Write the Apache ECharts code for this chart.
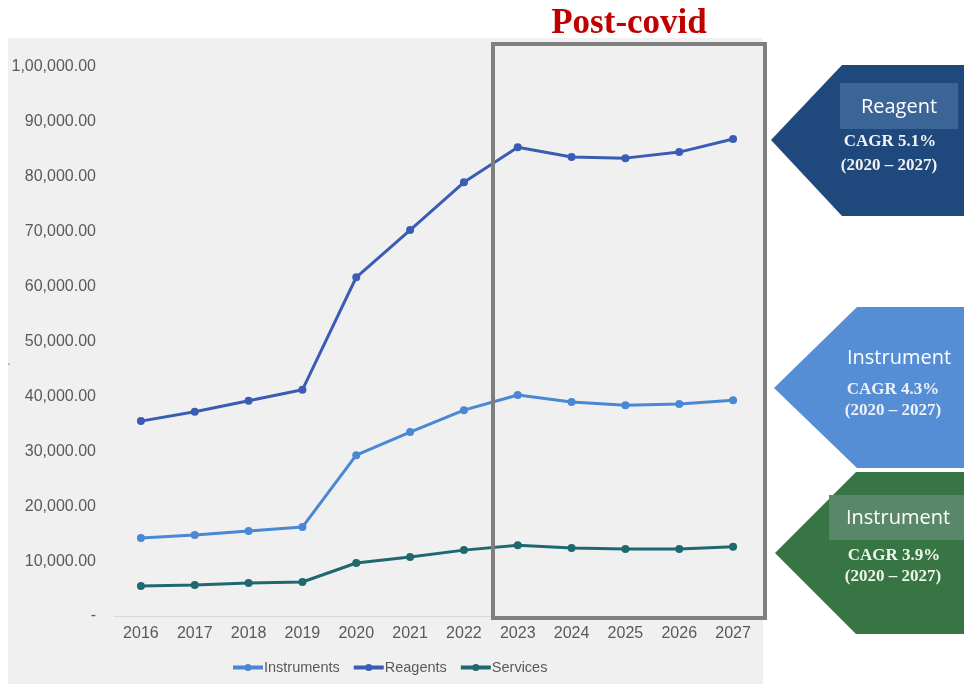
<!DOCTYPE html>
<html>
<head>
<meta charset="utf-8">
<script src="https://cdn.jsdelivr.net/npm/echarts@6/dist/echarts.min.js"></script>
<style>
html,body{margin:0;padding:0;background:#ffffff;}
#chart{width:964px;height:684px;}
</style>
</head>
<body>
<div id="chart"></div>
<script>
var years = ['2016','2017','2018','2019','2020','2021','2022','2023','2024','2025','2026','2027'];
var instruments = [14200, 14750, 15500, 16200, 29300, 33500, 37500, 40250, 39000, 38400, 38600, 39300];
var reagents = [35500, 37200, 39200, 41200, 61700, 70300, 79000, 85400, 83600, 83400, 84500, 86900];
var services = [5450, 5650, 6000, 6200, 9650, 10750, 12000, 12900, 12400, 12200, 12200, 12600];
var yTickLabels = ['-', '10,000.00', '20,000.00', '30,000.00', '40,000.00', '50,000.00', '60,000.00', '70,000.00', '80,000.00', '90,000.00', '1,00,000.00'];
var seriesNames = ['Instruments', 'Reagents', 'Services'];
var seriesColors = ['#4a87d4', '#3a5cb4', '#1f6870'];
var titleText = 'Post-covid';
var calloutTitles = ['Reagent', 'Instrument', 'Instrument'];
var calloutCagr = ['CAGR 5.1%', 'CAGR 4.3%', 'CAGR 3.9%'];
var calloutPeriod = '(2020 \u2013 2027)';

var chart = echarts.init(document.getElementById('chart'));

function mkSeries(i, data) {
  return {
    name: seriesNames[i], type: 'line', data: data,
    symbol: 'circle', symbolSize: 8,
    lineStyle: { width: 3, color: seriesColors[i] },
    itemStyle: { color: seriesColors[i] },
    z: 3
  };
}

var serifBold = 'bold 17px "Liberation Serif", "DejaVu Serif", serif';
var sans = '20px "Open Sans", "Noto Sans", sans-serif';

function txt(t, x, y, font, fill) {
  return { type: 'text', z: 30, style: { text: t, x: x, y: y, textAlign: 'center', textVerticalAlign: 'middle', font: font, fill: fill } };
}

var graphics = [
  { type: 'rect', z: -10, silent: true, shape: { x: 8, y: 38, width: 755, height: 646 }, style: { fill: '#f0f0f0' } },
  { type: 'rect', z: 20, silent: true, shape: { x: 493, y: 44, width: 272, height: 574 }, style: { fill: 'none', stroke: '#7f7f7f', lineWidth: 4 } },
  txt(titleText, 629, 24, 'bold 35px "Liberation Serif", "DejaVu Serif", serif', '#c00000'),
  // Reagent callout
  { type: 'polygon', z: 25, shape: { points: [[771,140],[842,65],[964,65],[964,216],[842,216]] }, style: { fill: '#1f497d' } },
  { type: 'rect', z: 26, shape: { x: 840, y: 83, width: 118, height: 46 }, style: { fill: '#3b6497' } },
  txt(calloutTitles[0], 899, 107, sans, '#ffffff'),
  txt(calloutCagr[0], 890, 142, serifBold, '#f2f2f2'),
  txt(calloutPeriod, 889, 166, serifBold, '#f2f2f2'),
  // Instrument callout (blue)
  { type: 'polygon', z: 25, shape: { points: [[774,388],[857,307],[964,307],[964,468],[857,468]] }, style: { fill: '#558ed5' } },
  txt(calloutTitles[1], 899, 358, sans, '#ffffff'),
  txt(calloutCagr[1], 893, 390, serifBold, '#eef2f8'),
  txt(calloutPeriod, 893, 411, serifBold, '#eef2f8'),
  // Instrument callout (green)
  { type: 'polygon', z: 25, shape: { points: [[775,553],[856,472],[964,472],[964,634],[856,634]] }, style: { fill: '#387544' } },
  { type: 'rect', z: 26, shape: { x: 829, y: 495, width: 135, height: 45 }, style: { fill: '#58876a' } },
  txt(calloutTitles[2], 898, 518, sans, '#ffffff'),
  txt(calloutCagr[2], 894, 556, serifBold, '#eef5ea'),
  txt(calloutPeriod, 893, 577, serifBold, '#eef5ea'),
  txt('.', 9, 362, '12px sans-serif', '#888888')
];

chart.setOption({
  animation: false,
  backgroundColor: '#ffffff',
  grid: { left: 114, right: 204, top: 67, bottom: 68 },
  legend: {
    data: seriesNames, left: 226, top: 655,
    itemWidth: 30, itemHeight: 9, itemGap: 12,
    lineStyle: { width: 4 },
    textStyle: { color: '#595959', fontSize: 14.5, padding: [0, 0, 0, -4], fontFamily: '"Liberation Sans", Arial, sans-serif' }
  },
  xAxis: {
    type: 'category', data: years, boundaryGap: true,
    axisLine: { lineStyle: { color: '#d9d9d9', width: 1 } },
    axisTick: { show: false },
    axisLabel: { color: '#595959', fontSize: 16, margin: 10, fontFamily: '"Liberation Sans", Arial, sans-serif' }
  },
  yAxis: {
    type: 'value', min: 0, max: 100000, interval: 10000,
    axisLine: { show: false }, axisTick: { show: false }, splitLine: { show: false },
    axisLabel: {
      color: '#595959', fontSize: 16, margin: 18, fontFamily: '"Liberation Sans", Arial, sans-serif',
      formatter: function (v) { return yTickLabels[Math.round(v / 10000)]; }
    }
  },
  series: [mkSeries(0, instruments), mkSeries(1, reagents), mkSeries(2, services)],
  graphic: graphics
});
</script>
</body>
</html>
